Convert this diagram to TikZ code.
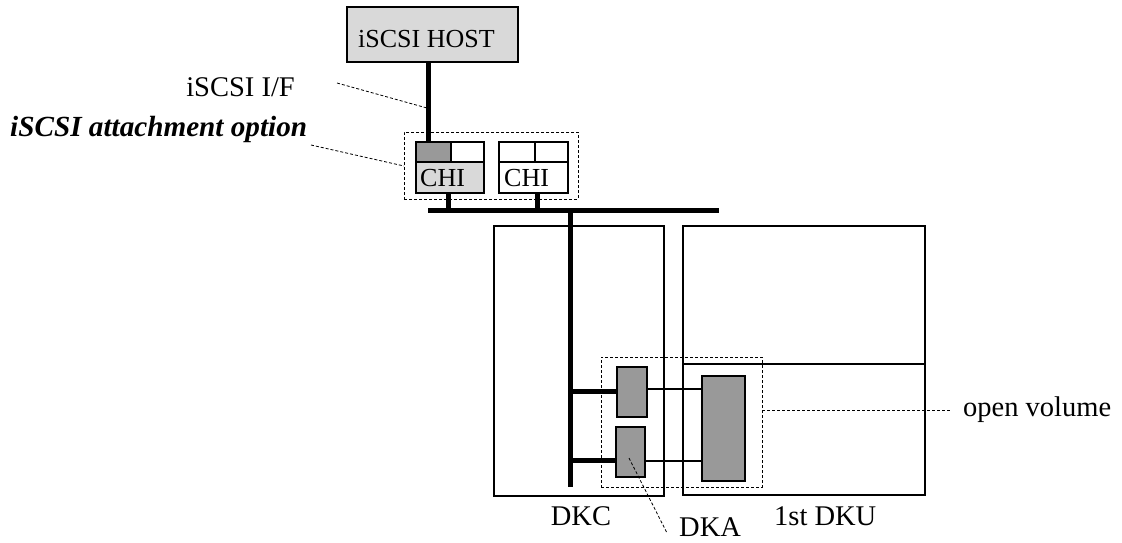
\documentclass[tikz,border=0pt]{standalone}
\usepackage{fontspec}
\setmainfont{Liberation Serif}
\definecolor{lgray}{HTML}{D9D9D9}
\definecolor{dgray}{HTML}{999999}
\begin{document}
\begin{tikzpicture}[x=1pt,y=-1pt,
  box/.style={draw, line width=1.5pt, inner sep=0pt, outer sep=0pt, anchor=north west},
  cell/.style={draw, line width=2pt, inner sep=0pt, outer sep=0pt, anchor=north west},
  dbox/.style={draw, line width=0.8pt, dash pattern=on 3pt off 2pt, inner sep=0pt, outer sep=0pt, anchor=north west},
  bus/.style={line width=5pt},
  link/.style={line width=1.5pt},
  lead/.style={line width=0.8pt, dash pattern=on 3pt off 2pt},
  lbl/.style={font=\fontsize{28.5}{30}\selectfont, inner sep=0pt},
  intext/.style={font=\fontsize{26}{28}\selectfont, inner sep=0pt}]
\useasboundingbox (0,0) rectangle (1122,542);

% host
\node[cell, fill=lgray, minimum width=171pt, minimum height=55pt] (host) at (347,7) {};
\node[intext, anchor=base west] (hosttxt) at (358,47) {iSCSI HOST};

% option dashed box
\node[dbox, minimum width=174pt, minimum height=67pt] (opt) at (404,132) {};

% CHI 1
\node[cell, fill=dgray, minimum width=35pt, minimum height=20pt] (c1a) at (416,142) {};
\node[cell, fill=white, minimum width=33pt, minimum height=20pt] (c1b) at (451,142) {};
\node[cell, fill=lgray, minimum width=68pt, minimum height=31pt] (c1c) at (416,162) {};
\node[intext, anchor=base west] (c1t) at (420,186) {CHI};
% CHI 2
\node[cell, fill=white, minimum width=36pt, minimum height=20pt] (c2a) at (499,142) {};
\node[cell, fill=white, minimum width=33pt, minimum height=20pt] (c2b) at (535,142) {};
\node[cell, fill=white, minimum width=69pt, minimum height=31pt] (c2c) at (499,162) {};
\node[intext, anchor=base west] (c2t) at (504,186) {CHI};

% host to CHI1
\coordinate (hx) at (428,0);
\draw[bus] (host.south -| hx) -- (c1a.north -| hx);

% bus
\coordinate (busL) at (428,210);
\coordinate (busR) at (719,210);
\draw[bus] (busL) -- (busR);
\coordinate (s1) at (448,0);
\coordinate (s2) at (537,0);
\draw[bus] (c1c.south -| s1) -- (busL -| s1);
\draw[bus] (c2c.south -| s2) -- (busL -| s2);

% DKC and DKU
\node[box, minimum width=170pt, minimum height=270pt] (dkc) at (494,226) {};
\node[box, minimum width=242pt, minimum height=269pt] (dku) at (683,226) {};
\coordinate (mid) at (0,364);
\draw[link] (dku.west |- mid) -- (dku.east |- mid);

% dashed box round DKA/volume
\node[dbox, minimum width=161pt, minimum height=130pt] (ov) at (601,357) {};

% DKAs and volume
\node[cell, fill=dgray, minimum width=30pt, minimum height=50pt] (dka1) at (617,367) {};
\node[cell, fill=dgray, minimum width=29pt, minimum height=50pt] (dka2) at (616,427) {};
\node[cell, fill=dgray, minimum width=43pt, minimum height=105pt] (vol) at (702,376) {};

% internal vertical bus
\coordinate (vx) at (570,0);
\coordinate (vbot) at (570,487);
\draw[bus] (busL -| vx) -- (vbot);
\coordinate (b1) at (0,391);
\coordinate (b2) at (0,460);
\draw[bus] (vx |- b1) -- (dka1.west |- b1);
\draw[bus] (vx |- b2) -- (dka2.west |- b2);

% DKA to volume
\coordinate (l1) at (0,389);
\coordinate (l2) at (0,461);
\draw[link] (dka1.east |- l1) -- (vol.west |- l1);
\draw[link] (dka2.east |- l2) -- (vol.west |- l2);

% labels
\node[lbl, anchor=base east] (iflbl) at (295,96) {iSCSI I/F};
\coordinate (ifs) at (337,83);
\coordinate (ife) at (427,108);
\draw[lead] (ifs) -- (ife);

\node[lbl, anchor=base west, font=\fontsize{29.2}{31}\selectfont\bfseries\itshape] (attlbl) at (10,136) {iSCSI attachment option};
\coordinate (ats) at (311,145);
\draw[lead] (ats) -- (opt.west |- 0,166);

\node[lbl, anchor=base] (dkclbl) at (581,525) {DKC};
\node[lbl, anchor=base west] (dkalbl) at (679,536) {DKA};
\node[lbl, anchor=base west] (dkulbl) at (774,525) {1st DKU};
\coordinate (dkas) at (629,458);
\coordinate (dkae) at (667,533);
\draw[lead] (dkas) -- (dkae);

\coordinate (ovy) at (0,410);
\coordinate (ove) at (950,410);
\draw[lead] (ov.east |- ovy) -- (ove);
\node[lbl, anchor=west] (ovlbl) at (963,410) {open volume};
\end{tikzpicture}
\end{document}
